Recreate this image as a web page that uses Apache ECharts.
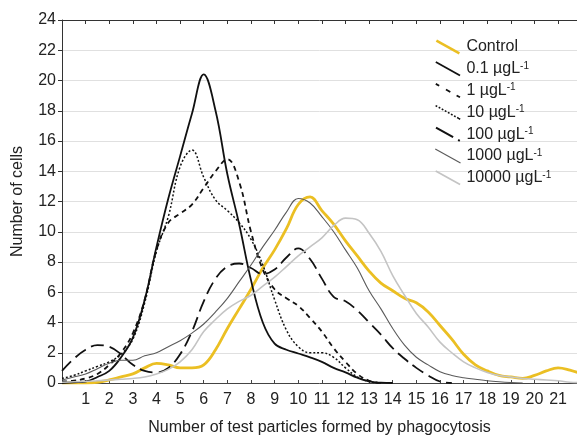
<!DOCTYPE html>
<html>
<head>
<meta charset="utf-8">
<script src="https://cdn.jsdelivr.net/npm/echarts@6/dist/echarts.min.js"></script>
<style>
html,body{margin:0;padding:0;background:#fff;}
#chart{width:577px;height:441px;}
</style>
</head>
<body>
<div id="chart"></div>
<script>
// ---- data (x = number of test particles, y = number of cells) ----
const xs = [0,0.5,1,1.5,2,2.5,3,3.5,4,4.5,5,5.5,6,6.5,7,7.5,8,8.5,9,9.5,10,10.5,11,11.5,12,12.5,13,13.5,14,14.5,15,15.5,16,16.5,17,17.5,18,18.5,19,19.5,20,20.5,21,21.5,22];

const control = [0,0,0,0.05,0.2,0.4,0.6,1.0,1.3,1.2,1.0,1.0,1.2,2.2,3.6,4.9,6.2,7.6,8.8,10.2,11.8,12.3,11.4,10.5,9.4,8.4,7.4,6.6,6.1,5.6,5.3,4.7,3.8,2.9,1.9,1.2,0.8,0.5,0.4,0.3,0.5,0.8,1.0,0.85,0.6];
const c01 = [0,0.05,0.1,0.4,0.8,1.7,3.0,5.5,9.0,12.2,15.0,17.8,20.4,18.0,13.8,10.5,6.8,4.0,2.6,2.2,1.95,1.7,1.4,1.0,0.7,0.35,0.1,0.02,0];
const c1 = [0.1,0.15,0.3,0.6,1.2,2.0,3.3,5.5,8.8,10.6,11.2,11.8,12.9,14.0,14.8,13.3,10.0,7.5,6.2,5.6,5.1,4.3,3.4,2.3,1.4,0.6,0.15,0];
const c10 = [0.3,0.5,0.8,1.1,1.4,1.9,2.9,5.3,8.7,11.0,14.3,15.4,13.6,12.1,11.4,10.6,9.5,7.8,5.5,3.5,2.4,2.0,2.0,1.7,1.0,0.4,0.1,0];
const c100 = [0.8,1.6,2.2,2.5,2.4,1.9,1.2,0.8,0.7,1.0,1.9,3.4,5.4,6.9,7.7,7.9,7.6,7.2,7.5,8.3,8.9,8.2,6.9,5.7,5.4,4.8,4.0,3.2,2.3,1.6,1.0,0.5,0.1,0];
const c1000 = [0.2,0.4,0.6,0.95,1.3,1.5,1.5,1.8,2.0,2.4,2.8,3.3,3.9,4.7,5.6,6.7,7.8,9.0,10.1,11.3,12.2,11.9,11.0,10.0,8.8,7.6,6.1,4.9,3.6,2.5,1.7,1.2,0.75,0.5,0.35,0.25,0.15,0.08,0.03,0];
const c10000 = [0.05,0.08,0.1,0.15,0.2,0.25,0.3,0.4,0.6,0.9,1.4,2.2,3.4,4.2,4.9,5.4,5.8,6.4,7.0,7.7,8.4,9.0,9.6,10.4,10.9,10.8,9.9,8.7,7.1,5.8,4.6,3.7,2.7,2.0,1.4,1.0,0.7,0.5,0.4,0.3,0.25,0.2,0.15,0.05,0.02];

const seriesNames = ['Control','0.1 µgL-1','1 µgL-1','10 µgL-1','100 µgL-1','1000 µgL-1','10000 µgL-1'];
const xTicks = [1,2,3,4,5,6,7,8,9,10,11,12,13,14,15,16,17,18,19,20,21];
const yTicks = [0,2,4,6,8,10,12,14,16,18,20,22,24];

// ---- helpers ----
function pairs(ys){ const out=[]; for(let i=0;i<ys.length;i++){ if(ys[i]!=null) out.push([xs[i], ys[i]]); } return out; }

function iconPath(segs, th){
  const W=27,H=15,L=Math.sqrt(W*W+H*H);
  const nx=-H/L*th/2, ny=W/L*th/2;
  let p='path://';
  segs.forEach(([a,b])=>{
    const x0=W*a,y0=H*a,x1=W*b,y1=H*b;
    p+=`M${(x0+nx).toFixed(2)},${(y0+ny).toFixed(2)}L${(x1+nx).toFixed(2)},${(y1+ny).toFixed(2)}L${(x1-nx).toFixed(2)},${(y1-ny).toFixed(2)}L${(x0-nx).toFixed(2)},${(y0-ny).toFixed(2)}Z`;
  });
  return p;
}
const dots=[]; for(let t=0;t<0.99;t+=0.125){ dots.push([t,t+0.065]); } dots.push([0.935,1]);

const FONT = "'Liberation Sans', Arial, sans-serif";
const styles = [
  {color:'#EBBF23', width:2.8, type:'solid', icon: iconPath([[0,1]],3)},
  {color:'#111111', width:1.8, type:'solid', icon: iconPath([[0,1]],2)},
  {color:'#111111', width:1.8, type:[5,4], icon: iconPath([[0,0.14],[0.42,0.6],[0.86,1]],2)},
  {color:'#111111', width:1.5, type:[2,2], icon: iconPath(dots,1.7)},
  {color:'#111111', width:1.8, type:[13,6], icon: iconPath([[0,0.72],[0.93,1]],2.3)},
  {color:'#5a5a5a', width:1.1, type:'solid', icon: iconPath([[0,1]],1.2)},
  {color:'#c4c4c4', width:1.6, type:'solid', icon: iconPath([[0,1]],1.8)}
];
const dataSets = [control,c01,c1,c10,c100,c1000,c10000];

const series = dataSets.map((d,i)=>({
  name: seriesNames[i],
  type:'line',
  data: pairs(d),
  smooth: 0.4,
  symbol:'none',
  xAxisIndex:0, yAxisIndex:0,
  lineStyle:{color:styles[i].color, width:styles[i].width, type:styles[i].type},
  itemStyle:{color:styles[i].color},
  z: i===0 ? 2 : 3
}));

const chart = echarts.init(document.getElementById('chart'), null, {renderer:'canvas'});
chart.setOption({
  animation:false,
  backgroundColor:'#ffffff',
  textStyle:{fontFamily:FONT},
  grid:{left:62, right:0, top:20, bottom:53, containLabel:false},
  xAxis:[{
    type:'value', min:0, max:21.8, interval:1, position:'bottom',
    axisLine:{show:true, onZero:false, lineStyle:{color:'#444', width:1}},
    axisTick:{show:true, inside:true, length:3, lineStyle:{color:'#444'}},
    axisLabel:{fontSize:16, color:'#222', margin:9, fontFamily:FONT, showMaxLabel:false,
      formatter:v=> xTicks.indexOf(v)>=0 ? String(v) : ''},
    splitLine:{show:false},
    name:'Number of test particles formed by phagocytosis',
    nameLocation:'middle', nameGap:37,
    nameTextStyle:{fontSize:16, color:'#222', fontFamily:FONT}
  },{
    type:'value', min:0, max:21.8, interval:1, position:'top',
    axisLine:{show:true, onZero:false, lineStyle:{color:'#333', width:1}},
    axisTick:{show:true, inside:true, length:4, lineStyle:{color:'#333'}},
    axisLabel:{show:false}, splitLine:{show:false}
  }],
  yAxis:[{
    type:'value', min:0, max:24, interval:2,
    axisLine:{show:true, lineStyle:{color:'#333', width:1}},
    axisTick:{show:true, inside:false, length:4, lineStyle:{color:'#333'}},
    axisLabel:{fontSize:16, color:'#222', margin:6, fontFamily:FONT,
      formatter:v=> yTicks.indexOf(v)>=0 ? String(v) : ''},
    splitLine:{show:true, lineStyle:{color:'#e0e0e0', width:1}},
    name:'Number of cells', nameLocation:'middle', nameGap:36, nameRotate:90,
    nameTextStyle:{fontSize:16, color:'#222', fontFamily:FONT}
  }],
  legend:{
    orient:'vertical', left:430, top:34,
    itemWidth:27, itemHeight:15, itemGap:5.8,
    selectedMode:false,
    itemStyle:{borderWidth:0},
    textStyle:{fontSize:16, color:'#222', fontFamily:FONT, padding:[0,0,0,0],
      rich:{
        n:{fontSize:16, lineHeight:16, color:'#222', fontFamily:FONT},
        s:{fontSize:10, lineHeight:10, verticalAlign:'top', color:'#222', fontFamily:FONT}
      }},
    formatter:function(name){
      if(name.endsWith('-1')) return '{n|'+name.slice(0,-2)+'}{s|-1}';
      return '{n|'+name+'}';
    },
    data: seriesNames.map((n,i)=>({name:n, icon:styles[i].icon}))
  },
  series: series
});
</script>
</body>
</html>
